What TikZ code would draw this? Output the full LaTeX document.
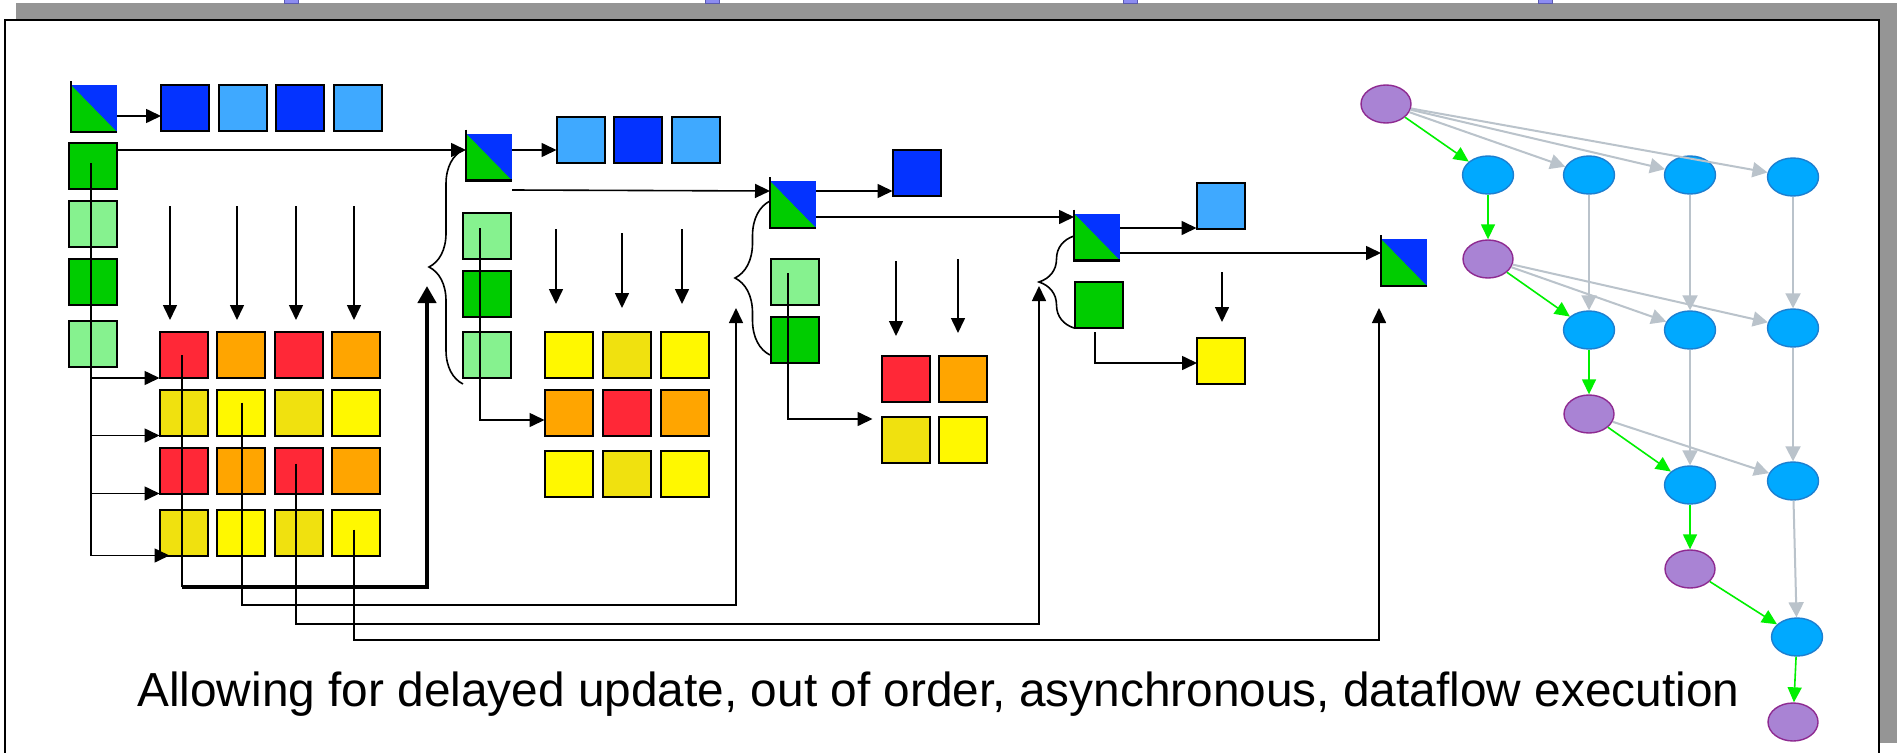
\documentclass[tikz,border=0pt]{standalone}
\usepackage{fontspec}
\setmainfont{Liberation Sans}
\usetikzlibrary{arrows.meta,decorations.pathreplacing,shapes.geometric,calc}
\definecolor{dblue}{HTML}{0433FF}
\definecolor{lblue}{HTML}{3FA9FF}
\definecolor{dgreen}{HTML}{00CC00}
\definecolor{lgreen}{HTML}{86F28F}
\definecolor{cred}{HTML}{FF2837}
\definecolor{corange}{HTML}{FFA500}
\definecolor{cyel}{HTML}{FFF800}
\definecolor{cdyel}{HTML}{F0E10F}
\definecolor{pfill}{HTML}{A983D4}
\definecolor{pdraw}{HTML}{8E2A91}
\definecolor{bfill}{HTML}{00A9FF}
\definecolor{bdraw}{HTML}{1C7FD0}
\definecolor{garrow}{HTML}{00F000}
\definecolor{grarrow}{HTML}{BAC3CB}
\definecolor{shadowgray}{HTML}{959595}
\definecolor{tabfill}{HTML}{8C8CF2}
\definecolor{tabdraw}{HTML}{5A5AB0}
\begin{document}
\begin{tikzpicture}[x=1pt,y=-1pt,
  sq/.style={draw=black,line width=2pt,minimum width=48pt,minimum height=46pt,inner sep=0pt,outer sep=0pt},
  tri/.style={minimum width=46pt,minimum height=47pt,inner sep=0pt,outer sep=0pt,
    path picture={
      \fill[dblue] (path picture bounding box.north west) rectangle (path picture bounding box.south east);
      \fill[dgreen] (path picture bounding box.north west) -- (path picture bounding box.south west) -- (path picture bounding box.south east) -- cycle;}},
  ln/.style={draw=black,line width=1.6pt},
  arr/.style={ln,-{Triangle[length=15pt,width=14pt]}},
  thk/.style={draw=black,line width=4.5pt,-{Triangle[length=17pt,width=18pt]}},
  bracestyle/.style={draw=black,line width=1.6pt,decorate},
  pn/.style={ellipse,draw=pdraw,fill=pfill,line width=1.4pt,minimum width=50pt,minimum height=38pt,inner sep=0pt},
  bn/.style={ellipse,draw=bdraw,fill=bfill,line width=1.4pt,minimum width=51pt,minimum height=38pt,inner sep=0pt},
  ga/.style={draw=garrow,line width=1.6pt,-{Triangle[length=15pt,width=14pt]}},
  gra/.style={draw=grarrow,line width=2pt,-{Triangle[length=15pt,width=15pt]}}
]
\useasboundingbox (0,0) rectangle (1897,752);
\fill[white] (0,0) rectangle (1897,752);
% frame and shadow
\fill[shadowgray] (16,3) rectangle (1897,20);
\fill[shadowgray] (1879,3) rectangle (1897,743);
\foreach \tx in {291.5,712,1130,1545}
  \filldraw[fill=tabfill,draw=tabdraw,line width=0.8pt] (\tx-7,-1) rectangle (\tx+7,3.5);
\fill[white] (5,20) rectangle (1879,760);
\draw[line width=2.2pt] (5,760) -- (5,20) -- (1879,20) -- (1879,760);

% ---------- group 1 ----------
\node[tri] (T1) at (94,108.5) {};
\node[sq,fill=dblue] (b1a) at (185,108) {};
\node[sq,fill=lblue] (b1b) at (242.5,108) {};
\node[sq,fill=dblue] (b1c) at (300,108) {};
\node[sq,fill=lblue] (b1d) at (358,108) {};
\node[sq,fill=dgreen] (g1a) at (92.5,166) {};
\node[sq,fill=lgreen] (g1b) at (92.5,224) {};
\node[sq,fill=dgreen] (g1c) at (92.5,282) {};
\node[sq,fill=lgreen] (g1d) at (92.5,343.5) {};
\foreach \yy/\ca/\cb [count=\r] in {355/cred/corange,412.5/cdyel/cyel,470.5/cred/corange,532.5/cdyel/cyel}{
  \foreach \xx/\cc [count=\c] in {183.5/\ca,240.5/\cb,298.5/\ca,356/\cb}{
    \node[sq,fill=\cc] (a\r\c) at (\xx,\yy) {};
  }
}
% ---------- group 2 ----------
\node[tri] (T2) at (489,157) {};
\node[sq,fill=lblue] (b2a) at (580.5,140) {};
\node[sq,fill=dblue] (b2b) at (638,140) {};
\node[sq,fill=lblue] (b2c) at (696,140) {};
\node[sq,fill=lgreen] (g2a) at (487,236) {};
\node[sq,fill=dgreen] (g2b) at (487,294) {};
\node[sq,fill=lgreen] (g2c) at (487,355) {};
\foreach \yy/\ca/\cb [count=\r] in {355/cyel/cdyel,412.5/corange/cred,474/cyel/cdyel}{
  \foreach \xx/\cc [count=\c] in {568.5/\ca,626.5/\cb,684.5/\ca}{
    \node[sq,fill=\cc] (c\r\c) at (\xx,\yy) {};
  }
}
% ---------- group 3 ----------
\node[tri] (T3) at (793,204.5) {};
\node[sq,fill=dblue] (b3) at (916.5,172.5) {};
\node[sq,fill=lgreen] (g3a) at (794.5,282) {};
\node[sq,fill=dgreen] (g3b) at (794.5,340) {};
\node[sq,fill=cred] (d11) at (905.5,378.5) {};
\node[sq,fill=corange] (d12) at (963,378.5) {};
\node[sq,fill=cdyel] (d21) at (905.5,440) {};
\node[sq,fill=cyel] (d22) at (963,440) {};
% ---------- group 4 ----------
\node[tri] (T4) at (1097,237) {};
\node[sq,fill=lblue] (b4) at (1220.5,206) {};
\node[sq,fill=dgreen] (g4) at (1099,305) {};
\node[sq,fill=cyel] (y4) at (1221,360.5) {};
% ---------- group 5 ----------
\node[tri] (T5) at (1404,262.5) {};

\foreach \n in {T1,T2,T3,T4,T5}
  \draw[line width=2.5pt] ([yshift=4pt]\n.north west) -- (\n.south west) -- (\n.south east);

% coordinates for the upward arrows
\coordinate (u1) at (427,286);
\coordinate (u2) at (736,308);
\coordinate (u3) at (1039,286);
\coordinate (u4) at (1379,308);
\coordinate (k1) at (182,587);
\coordinate (k2) at (736,605);
\coordinate (k3) at (1039,624);
\coordinate (k4) at (1379,640);

% group 1 connectors
\draw[arr] ([yshift=-7.5pt]T1.east) -- ([yshift=-8pt]b1a.west);
\draw[ln] ([xshift=-1.5pt,yshift=3pt]g1a.center) -- ([xshift=-1.5pt]g1a.center |- a41.south);
\foreach \r in {1,2,3}
  \draw[arr] ([xshift=-1.5pt]g1a.center |- a\r1.south west) -- (a\r1.south west);
\draw[arr] ([xshift=-1.5pt]g1a.center |- a41.south west) -- ([xshift=10pt]a41.south west);
\foreach \xx in {170,237,296,354}
  \draw[arr] (\xx,206) -- (\xx,320);
\draw[ln] ([xshift=-1.5pt]a11.center) -- (k1);
\draw[thk] (k1) -- (u1 |- k1) -- (u1);
\draw[arr] ([xshift=1.5pt,yshift=10pt]a22.center) |- (k2) -- (u2);
\draw[arr] ([xshift=-2.5pt,yshift=7pt]a33.center) |- (k3) -- (u3);
\draw[arr] ([xshift=-2pt,yshift=3pt]a44.center) |- (k4) -- (u4);

% group 2 connectors
\draw[arr] ([yshift=16pt]g1a.east) -- ([yshift=7pt]T2.west);
\draw[arr] ([yshift=7pt]T2.east) -- ([yshift=-10pt]b2a.west);
\draw[arr] ([yshift=-9.5pt]T2.south east) -- ([yshift=13.5pt]T3.west);
\draw[bracestyle,decoration={brace,amplitude=34pt}] (463,384) -- (463,150);
\draw[arr] ([xshift=-7pt,yshift=8pt]g2a.center) |- ([yshift=-7.5pt]c21.west);
\draw[arr] (556,229) -- (556,304);
\draw[arr] (622,233) -- (622,308);
\draw[arr] (682,229) -- (682,304);

% group 3 connectors
\draw[arr] ([yshift=13.5pt]T3.east) -- ([yshift=-18.5pt]b3.west);
\draw[arr] ([yshift=-12.5pt]T3.east) -- ([yshift=20pt]T4.west);
\draw[bracestyle,decoration={brace,amplitude=35pt}] (770,355) -- (770,201);
\draw[arr] ([xshift=-6.5pt,yshift=9pt]g3a.center) |- ([xshift=-9pt,yshift=-2pt]d21.north west);
\draw[arr] (896,261) -- (896,336);
\draw[arr] (958,259) -- (958,333);

% group 4 connectors
\draw[arr] ([yshift=9pt]T4.east) -- ([yshift=-22pt]b4.west);
\draw[arr] ([yshift=-16pt]T4.east) -- ([yshift=9.5pt]T5.west);
\draw[bracestyle,decoration={brace,amplitude=35pt}] (1074,328) -- (1074,236);
\draw[arr] ([xshift=-4pt,yshift=-4pt]g4.south) |- ([yshift=-2.5pt]y4.west);
\draw[arr] (1222,272) -- (1222,322);

% ---------- DAG ----------
\node[pn] (P1) at (1386,104) {};
\node[bn] (B11) at (1488,175) {};
\node[bn] (B12) at (1589,175) {};
\node[bn] (B13) at (1690,175) {};
\node[bn] (B14) at (1793,177) {};
\node[pn] (P2) at (1488,259) {};
\node[bn] (B21) at (1589,330) {};
\node[bn] (B22) at (1690,330) {};
\node[bn] (B23) at (1793,328) {};
\node[pn] (P3) at (1589,414) {};
\node[bn] (B31) at (1690,485) {};
\node[bn] (B32) at (1793,481) {};
\node[pn] (P4) at (1690,569) {};
\node[bn] (B41) at (1797,637) {};
\node[pn] (P5) at (1793,722) {};

\draw[gra] (P1) -- (B12);
\draw[gra] (P1) -- (B13);
\draw[gra] (P1) -- (B14);
\draw[gra] (B12) -- (B21);
\draw[gra] (B13) -- (B22);
\draw[gra] (B14) -- (B23);
\draw[gra] (P2) -- (B22);
\draw[gra] (P2) -- (B23);
\draw[gra] (B22) -- (B31);
\draw[gra] (B23) -- (B32);
\draw[gra] (P3) -- (B32);
\draw[gra] (B32) -- (B41);

\draw[ga] (P1) -- (B11);
\draw[ga] (B11) -- (P2);
\draw[ga] (P2) -- (B21);
\draw[ga] (B21) -- (P3);
\draw[ga] (P3) -- (B31);
\draw[ga] (B31) -- (P4);
\draw[ga] (P4) -- (B41);
\draw[ga] (B41) -- (P5);

% caption
\node[anchor=base west,inner sep=0pt,font=\fontsize{47.8}{57}\selectfont] (cap) at (137,706)
  {Allowing for delayed update, out of order, asynchronous, dataflow execution};
\end{tikzpicture}
\end{document}
